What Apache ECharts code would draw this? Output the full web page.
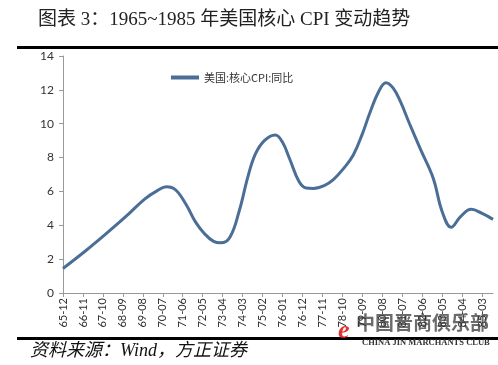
<!DOCTYPE html>
<html><head><meta charset="utf-8">
<script src="https://cdn.jsdelivr.net/npm/echarts@6/dist/echarts.min.js"></script>
<style>html,body{margin:0;padding:0;background:#fff}#c{width:498px;height:365px}</style>
</head><body><div id="c"></div>
<script>
// Sample months (YY-MM) and core CPI YoY values
var months = ['65-12','66-12','67-11','68-11','69-09','70-04','70-09','71-02','71-08','72-01','72-06','72-11','73-03','73-08','74-01','74-06','74-10','75-03','75-09','76-01','76-05','76-10','77-02','77-06','77-12','78-05','78-11','79-04','79-09','80-01','80-06','80-10','81-02','81-06','81-11','82-05','82-12','83-05','83-10','84-03','84-09','85-03','85-09'];
var values = [1.45,2.45,3.43,4.55,5.55,6.05,6.28,6.1,5.2,4.2,3.5,3.05,2.97,3.3,4.8,6.9,8.2,9.0,9.33,8.9,7.9,6.6,6.2,6.18,6.35,6.7,7.4,8.15,9.4,10.6,11.9,12.42,12.1,11.3,10.0,8.5,6.8,4.8,3.88,4.5,4.94,4.7,4.35];
var yTicks = [0,2,4,6,8,10,12,14];
var seriesName = '美国:核心CPI:同比';

function toIndex(s){var p=s.split('-');return (parseInt(p[0],10)-65)*12+(parseInt(p[1],10)-12);}
function toLabel(m){var t=11+m;var y=65+Math.floor(t/12);var mo=t%12+1;return y+'-'+(mo<10?'0'+mo:mo);}
var data = months.map(function(s,i){return [toIndex(s), values[i]];});

var chart = echarts.init(document.getElementById('c'));
chart.setOption({
  backgroundColor:'#fff',
  animation:false,
  title:{text:'图表 3：1965~1985 年美国核心 CPI 变动趋势',left:33,top:6,
    textStyle:{fontFamily:'Liberation Serif, Noto Sans CJK SC',fontSize:19,fontWeight:'normal',color:'#222'}},
  legend:{data:[seriesName],left:166,top:67,itemWidth:28,itemHeight:4,itemGap:4,icon:'rect',
    textStyle:{fontFamily:'Noto Sans CJK SC',fontSize:11,color:'#333'}},
  grid:{left:63,right:5,top:56,bottom:72},
  xAxis:{type:'value',min:0,max:237,interval:11,
    axisLine:{lineStyle:{color:'#999',width:1}},
    axisTick:{show:true,inside:false,length:4,lineStyle:{color:'#999'}},
    splitLine:{show:false},
    axisLabel:{rotate:90,margin:5,showMaxLabel:false,color:'#333',fontFamily:'Lato',fontSize:11,
      formatter:function(v){return toLabel(v);}}},
  yAxis:{type:'value',min:yTicks[0],max:yTicks[yTicks.length-1],interval:2,
    axisLine:{show:true,lineStyle:{color:'#999',width:1}},
    axisTick:{show:true,length:4,lineStyle:{color:'#999'}},
    splitLine:{show:false},
    axisLabel:{color:'#333',fontFamily:'Lato',fontSize:12,margin:9}},
  series:[{name:seriesName,type:'line',data:data,smooth:0.4,showSymbol:false,
    lineStyle:{color:'#4A6E96',width:3},itemStyle:{color:'#4A6E96'}}],
  graphic:[
    {type:'rect',left:17,top:46,shape:{width:481,height:3},style:{fill:'#000'}},
    {type:'rect',left:17,top:337,shape:{width:481,height:3},style:{fill:'#000'}},
    {type:'text',left:30,top:342,style:{text:'资料来源：Wind，方正证券',font:'italic 18px "Liberation Serif", "Noto Sans CJK SC"',fill:'#111'}},
    {type:'text',left:338,top:318,style:{text:'e',font:'italic bold 26px "Liberation Serif"',fill:'rgba(220,30,30,0.9)'}},
    {type:'text',left:356,top:313,style:{text:'中国晋商俱乐部',font:'bold 19px "Noto Sans CJK SC"',fill:'rgba(70,70,70,0.8)'}},
    {type:'text',left:362,top:338,style:{text:'CHINA JIN MARCHANTS CLUB',font:'bold 8.5px "Liberation Serif"',fill:'#333'}}
  ]
});
</script></body></html>
